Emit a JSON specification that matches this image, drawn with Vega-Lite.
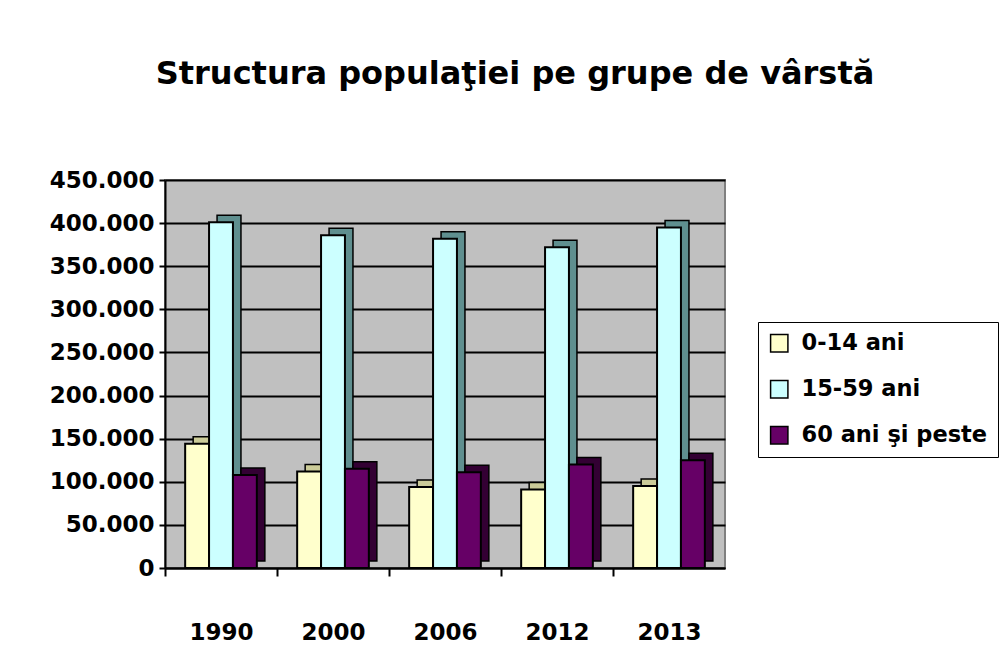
{
  "$schema": "https://vega.github.io/schema/vega-lite/v6.json",
  "width": 560,
  "height": 388,
  "autosize": {"type": "none"},
  "padding": {"left": 165, "top": 180, "right": 280, "bottom": 89},
  "background": "white",
  "title": {
    "text": "Structura populaţiei pe grupe de vârstă",
    "font": "DejaVu Sans",
    "fontSize": 32,
    "fontWeight": "bold",
    "color": "black",
    "anchor": "middle",
    "frame": "group",
    "dx": 70,
    "offset": 78
  },
  "data": {
    "values": [
      {"an": "1990", "grupa": "0-14  ani", "populatie": 144000},
      {"an": "1990", "grupa": "15-59 ani", "populatie": 401000},
      {"an": "1990", "grupa": "60 ani şi peste", "populatie": 108000},
      {"an": "2000", "grupa": "0-14  ani", "populatie": 112000},
      {"an": "2000", "grupa": "15-59 ani", "populatie": 386000},
      {"an": "2000", "grupa": "60 ani şi peste", "populatie": 115000},
      {"an": "2006", "grupa": "0-14  ani", "populatie": 94000},
      {"an": "2006", "grupa": "15-59 ani", "populatie": 382000},
      {"an": "2006", "grupa": "60 ani şi peste", "populatie": 111000},
      {"an": "2012", "grupa": "0-14  ani", "populatie": 91000},
      {"an": "2012", "grupa": "15-59 ani", "populatie": 372000},
      {"an": "2012", "grupa": "60 ani şi peste", "populatie": 120000},
      {"an": "2013", "grupa": "0-14  ani", "populatie": 95000},
      {"an": "2013", "grupa": "15-59 ani", "populatie": 395000},
      {"an": "2013", "grupa": "60 ani şi peste", "populatie": 125000}
    ]
  },
  "encoding": {
    "x": {
      "field": "an",
      "type": "nominal",
      "scale": {"paddingInner": 0.36, "paddingOuter": 0.18},
      "axis": {
        "title": null,
        "labelAngle": 0,
        "labelFont": "DejaVu Sans",
        "labelFontSize": 23,
        "labelFontWeight": "bold",
        "labelColor": "black",
        "labelPadding": 45,
        "tickOffset": -56,
        "labelOffset": 56,
        "tickColor": "black",
        "tickSize": 8,
        "tickWidth": 2,
        "domainColor": "black",
        "domainWidth": 2
      }
    },
    "y": {
      "field": "populatie",
      "type": "quantitative",
      "scale": {"domain": [0, 450000], "nice": false},
      "axis": {
        "title": null,
        "values": [0, 50000, 100000, 150000, 200000, 250000, 300000, 350000, 400000, 450000],
        "labelExpr": "replace(format(datum.value, ','), ',', '.')",
        "labelFont": "DejaVu Sans",
        "labelFontSize": 23,
        "labelFontWeight": "bold",
        "labelColor": "black",
        "labelPadding": 5,
        "tickColor": "black",
        "tickSize": 6,
        "tickWidth": 2,
        "domainColor": "black",
        "domainWidth": 2,
        "grid": true,
        "gridColor": "black",
        "gridWidth": 2
      }
    }
  },
  "layer": [
    {
      "mark": {"type": "bar", "yOffset": -7, "stroke": "black", "strokeWidth": 1.5},
      "encoding": {
        "xOffset": {
          "field": "grupa",
          "type": "nominal",
          "scale": {"domain": ["0-14  ani", "15-59 ani", "60 ani şi peste"], "paddingInner": 0, "paddingOuter": 0, "range": [8, 79.7]}
        },
        "color": {
          "field": "grupa",
          "type": "nominal",
          "scale": {"domain": ["0-14  ani", "15-59 ani", "60 ani şi peste"], "range": ["#cccc99", "#5f8f8f", "#330033"]},
          "legend": null
        }
      }
    },
    {
      "mark": {"type": "bar", "stroke": "black", "strokeWidth": 2},
      "encoding": {
        "xOffset": {
          "field": "grupa",
          "type": "nominal",
          "scale": {"domain": ["0-14  ani", "15-59 ani", "60 ani şi peste"], "paddingInner": 0, "paddingOuter": 0}
        },
        "color": {
          "field": "grupa",
          "type": "nominal",
          "scale": {"domain": ["0-14  ani", "15-59 ani", "60 ani şi peste"], "range": ["#ffffcc", "#ccffff", "#660066"]},
          "legend": {
            "title": null,
            "orient": "none",
            "legendX": 593,
            "legendY": 142,
            "strokeColor": "black",
            "fillColor": "white",
            "padding": 10,
            "symbolType": "square",
            "symbolSize": 300,
            "symbolStrokeColor": "black",
            "symbolStrokeWidth": 1.5,
            "labelFont": "DejaVu Sans",
            "labelFontSize": 22.5,
            "labelFontWeight": "bold",
            "labelColor": "black",
            "labelOffset": 11,
            "labelLimit": 400,
            "rowPadding": 22
          }
        }
      }
    }
  ],
  "resolve": {"scale": {"color": "independent", "xOffset": "independent"}, "legend": {"color": "independent"}},
  "config": {
    "view": {"fill": "#c0c0c0", "stroke": "#808080", "strokeWidth": 2}
  }
}
